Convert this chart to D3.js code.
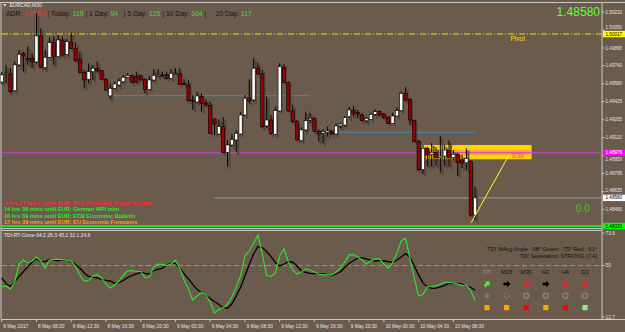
<!DOCTYPE html>
<html>
<head>
<meta charset="utf-8">
<script src="https://cdn.jsdelivr.net/npm/d3@7"></script>
<style>
  body { margin: 0; background: #6b5b4c; overflow: hidden; }
  svg { display: block; font-family: "Liberation Sans", Arial, sans-serif; }
</style>
</head>
<body>
<div id="graph-container"></div>
<script>

/////////////////////////////////////////////////////////////////////////////
                      ///////    Data    ///////
/////////////////////////////////////////////////////////////////////////////

var opens = [
  1.49596,1.49667,1.49667,1.49520,1.49746,1.49848,1.49804,1.49801,1.49772,1.50000,
  1.49722,1.49813,1.49945,1.49818,1.49965,1.49839,1.49945,1.49892,1.49798,1.49678,
  1.49620,1.49687,1.49717,1.49696,1.49620,1.49474,1.49541,1.49570,1.49599,1.49638,
  1.49655,1.49643,1.49655,1.49620,1.49532,1.49614,1.49649,1.49658,1.49658,1.49629,
  1.49667,1.49667,1.49582,1.49570,1.49436,1.49421,1.49468,1.49412,1.49392,1.49272,
  1.49140,1.49204,1.48980,1.49044,1.49088,1.49140,1.49307,1.49454,1.49439,1.49717,
  1.49667,1.49211,1.49263,1.49138,1.49342,1.49725,1.49594,1.49342,1.49248,1.49082,
  1.49176,1.49263,1.49278,1.49161,1.49147,1.49155,1.49161,1.49140,1.49211,1.49219,
  1.49292,1.49345,1.49327,1.49307,1.49257,1.49269,1.49313,1.49336,1.49316,1.49287,
  1.49234,1.49298,1.49345,1.49497,1.49445,1.49257,1.49073,1.48829,1.49015,1.48962,
  1.48976,1.48936,1.48947,1.48994,1.48936,1.48962,1.48912,1.48889,1.48898,1.48430
];
var highs = [
  1.49684,1.49746,1.49717,1.49774,1.49877,1.49862,1.49906,1.49848,1.50199,1.50067,
  1.49877,1.49988,1.49994,1.50009,1.49994,1.49971,1.50029,1.49941,1.49862,1.49702,
  1.49760,1.49746,1.49774,1.49702,1.49634,1.49585,1.49599,1.49629,1.49658,1.49673,
  1.49658,1.49687,1.49658,1.49629,1.49649,1.49709,1.49709,1.49687,1.49687,1.49709,
  1.49717,1.49717,1.49620,1.49614,1.49482,1.49511,1.49497,1.49445,1.49424,1.49278,
  1.49269,1.49287,1.49088,1.49140,1.49176,1.49336,1.49482,1.49620,1.49804,1.49766,
  1.49702,1.49468,1.49307,1.49380,1.49760,1.49754,1.49599,1.49395,1.49263,1.49199,
  1.49336,1.49327,1.49287,1.49182,1.49182,1.49204,1.49176,1.49234,1.49240,1.49298,
  1.49375,1.49386,1.49351,1.49322,1.49287,1.49327,1.49357,1.49345,1.49327,1.49298,
  1.49327,1.49375,1.49511,1.49550,1.49454,1.49269,1.49088,1.49044,1.49029,1.49059,
  1.49024,1.49123,1.49044,1.49082,1.49000,1.48976,1.48956,1.49015,1.48912,1.48678
];
var lows = [
  1.49579,1.49585,1.49497,1.49511,1.49731,1.49687,1.49746,1.49717,1.49760,1.49717,
  1.49702,1.49804,1.49746,1.49813,1.49818,1.49833,1.49883,1.49774,1.49673,1.49541,
  1.49585,1.49614,1.49678,1.49614,1.49520,1.49447,1.49532,1.49555,1.49585,1.49629,
  1.49585,1.49585,1.49599,1.49497,1.49526,1.49599,1.49638,1.49638,1.49620,1.49620,
  1.49664,1.49570,1.49568,1.49424,1.49351,1.49410,1.49336,1.49380,1.49140,1.49132,
  1.49132,1.48971,1.48854,1.49029,1.48985,1.49132,1.49298,1.49410,1.49424,1.49658,
  1.49190,1.49190,1.49132,1.49132,1.49336,1.49585,1.49336,1.49234,1.49082,1.49073,
  1.49161,1.49234,1.49152,1.49073,1.49059,1.49117,1.49132,1.49132,1.49190,1.49204,
  1.49278,1.49292,1.49278,1.49248,1.49240,1.49263,1.49298,1.49298,1.49269,1.49228,
  1.49228,1.49292,1.49336,1.49424,1.49219,1.49068,1.48819,1.48790,1.48854,1.48854,
  1.48860,1.48801,1.48860,1.48854,1.48912,1.48772,1.48842,1.48825,1.48415,1.48386
];
var closes = [
  1.49658,1.49675,1.49511,1.49746,1.49839,1.49824,1.49789,1.49772,1.50000,1.49722,
  1.49813,1.49941,1.49818,1.49965,1.49833,1.49950,1.49892,1.49783,1.49678,1.49614,
  1.49687,1.49717,1.49693,1.49620,1.49526,1.49541,1.49579,1.49605,1.49638,1.49655,
  1.49594,1.49594,1.49620,1.49532,1.49614,1.49655,1.49658,1.49649,1.49629,1.49673,
  1.49673,1.49576,1.49573,1.49432,1.49430,1.49474,1.49410,1.49395,1.49147,1.49228,
  1.49204,1.48976,1.49044,1.49092,1.49147,1.49307,1.49454,1.49430,1.49717,1.49667,
  1.49204,1.49263,1.49147,1.49345,1.49731,1.49590,1.49342,1.49248,1.49088,1.49176,
  1.49257,1.49278,1.49161,1.49140,1.49161,1.49167,1.49140,1.49211,1.49228,1.49283,
  1.49351,1.49322,1.49313,1.49257,1.49278,1.49313,1.49336,1.49307,1.49287,1.49234,
  1.49298,1.49345,1.49497,1.49439,1.49263,1.49073,1.48825,1.49015,1.48956,1.48980,
  1.48936,1.48947,1.49000,1.48936,1.48962,1.48889,1.48886,1.48927,1.48430,1.48580
];

var time_labels = ['8 May 2017', '8 May 08:30', '8 May 12:30', '8 May 16:30', '8 May 20:30',
                   '9 May 00:30', '9 May 04:30', '9 May 08:30', '9 May 12:30', '9 May 16:30',
                   '9 May 20:30', '10 May 00:30', '10 May 04:30', '10 May 08:30'];
var bars_per_label = 8;

var price_ticks = [1.50210, 1.50050, 1.49895, 1.49740, 1.49580, 1.49425, 1.49265,
                   1.49110, 1.48950, 1.48795, 1.48635, 1.48480];

var tdi_green = [
  34.5,35.2,33.0,38.1,51.1,54.0,51.9,53.3,56.2,53.3,
  48.2,54.0,54.5,54.5,54.4,54.0,53.3,49.0,43.2,38.8,
  39.2,42.4,43.5,41.0,36.6,33.7,35.9,38.8,42.8,46.1,
  46.4,45.7,45.7,41.2,41.7,49.0,51.1,50.8,50.0,51.1,
  53.7,48.2,39.5,33.0,25.0,27.9,30.5,28.7,23.6,15.6,
  18.1,19.4,22.1,27.2,34.5,42.4,56.9,60.9,66.0,72.2,
  58.4,42.8,42.1,44.2,56.9,62.0,52.6,46.8,43.9,45.3,
  47.5,46.8,45.3,43.9,43.2,43.2,43.2,45.3,48.2,52.6,
  57.7,58.0,56.2,54.0,51.1,53.3,54.8,54.8,51.1,48.0,
  51.9,59.1,67.8,69.8,55.3,41.0,27.9,29.0,34.5,34.8,
  35.2,36.6,37.9,37.9,37.4,36.6,35.5,35.9,31.6,24.6
];
var tdi_signal = [
  41.0,37.0,34.8,38.1,42.1,45.7,49.0,52.6,55.1,52.9,
  52.8,54.4,54.2,53.4,54.4,54.0,52.9,50.8,48.2,44.6,
  42.1,41.5,41.0,39.9,39.2,38.8,37.1,37.7,39.2,41.3,
  42.8,43.9,45.0,44.4,43.9,46.4,47.3,48.2,50.4,51.5,
  51.9,48.2,44.2,40.3,36.3,32.6,30.5,28.3,26.1,23.9,
  21.8,19.6,19.0,22.1,27.9,34.1,42.4,50.8,58.4,63.8,
  63.1,60.2,56.6,52.2,49.7,51.1,52.8,52.4,49.7,46.1,
  45.0,44.4,44.2,44.2,43.9,43.5,42.8,43.9,45.5,48.6,
  51.5,53.7,55.3,55.6,54.8,53.8,53.3,53.8,53.3,52.8,
  52.4,54.0,56.2,58.7,56.2,49.7,43.2,37.4,34.7,33.5,
  33.7,34.5,35.7,37.0,37.1,37.1,36.6,35.5,34.1,32.1
];
var tdi_ticks = [73.6, 50, 12.7];
var tdi_mid = 50;

var pivot_price = 1.50017;
var s38_price = 1.48976;
var bid_price = 1.48580;
var bid_from_bar = 49;
var low_price = 1.48333;
var blue_levels = [{from: 25, to: 71, price: 1.49476}, {from: 71, to: 109, price: 1.49155}];
var zone = {from: 96.5, to: 122, top: 1.49044, bottom: 1.48919, band_top: 1.49000, band_bottom: 1.48956};
var trend = [{bar: 108.1, price: 1.48363}, {bar: 116.9, price: 1.48962}];

var adr_parts = [
  {t: 'ADR: ', c: 'dark'}, {t: '107 5%', c: 'red'}, {t: '| Today: ', c: 'dark'}, {t: '119', c: 'green'},
  {t: ' | 1 Day: ', c: 'dark'}, {t: '94', c: 'green'}, {t: '   | 5 Day: ', c: 'dark'}, {t: '125', c: 'green'},
  {t: ' | 10 Day: ', c: 'dark'}, {t: '104', c: 'green'}, {t: ' |     20 Day: ', c: 'dark'}, {t: '117', c: 'green'}
];
var news = [
  {t: '4 hrs 21 mins since EUR: ECB President Draghi Speaks', c: 'red'},
  {t: '14 hrs 39 mins until EUR: German WPI m/m', c: 'green'},
  {t: '16 hrs 39 mins until EUR: ECB Economic Bulletin', c: 'green'},
  {t: '17 hrs 39 mins until EUR: EU Economic Forecasts', c: 'orange'}
];

var timeframes = ['M5', 'M15', 'M30', 'H1', 'H4', 'D1'];
var tf_angle = [-45, 0, 45, 0, 45, 90];
var tf_arrow_color = ['#33ff33', '#000', '#ff1a1a', '#000', '#ff1a1a', '#ff1a1a'];
var tf_square_color = ['#ffa500', '#ffa500', '#ff0000', '#ffa500', '#ff0000', '#90ee90'];
var tdi_info = ['TDI WAvg Angle: -58\u00b0  Green: -75\u00b0  Red: -51\u00b0', 'TDI Seperation: STRONG [7.4]'];

/////////////////////////////////////////////////////////////////////////////
                      ///////    Set Up Chart    ///////
/////////////////////////////////////////////////////////////////////////////

var w = 625, h = 332;
var bg = '#6b5b4c';
var frame = '#c9c9c9';
var axis_x = 602;
var main_top = 3, main_bottom = 228;
var sub_top = 230, sub_bottom = 319;
var text_col = {dark: '#141414', red: '#ff2a2a', green: '#2ee52e', orange: '#ff9f1a'};

var svg = d3.select('#graph-container').append('svg').attr('width', w).attr('height', h);
svg.append('rect').attr('width', w).attr('height', h).attr('fill', bg);

var n = closes.length;
var x = d3.scaleLinear().domain([0, n - 1]).range([1.7, 1.7 + 4.343 * (n - 1)]);
var y = d3.scaleLinear().domain([1.48316, 1.50280]).range([main_bottom, 4]);
var yt = d3.scaleLinear().domain([12.7, 73.6]).range([317, 233]);

var bars = d3.range(n).map(i => ({i: i, o: opens[i], h: highs[i], l: lows[i], c: closes[i]}));

// frame lines
svg.append('line').attr('x1', 0).attr('x2', w).attr('y1', 2.5).attr('y2', 2.5).attr('stroke', frame);
svg.append('line').attr('x1', 1).attr('x2', 1).attr('y1', 2.5).attr('y2', sub_bottom).attr('stroke', frame);
svg.append('line').attr('x1', axis_x).attr('x2', axis_x).attr('y1', 2.5).attr('y2', sub_bottom).attr('stroke', frame);
svg.append('line').attr('x1', 1).attr('x2', axis_x).attr('y1', main_bottom + 0.5).attr('y2', main_bottom + 0.5).attr('stroke', frame);
svg.append('line').attr('x1', 1).attr('x2', axis_x).attr('y1', sub_top + 0.5).attr('y2', sub_top + 0.5).attr('stroke', frame);
svg.append('line').attr('x1', 1).attr('x2', w).attr('y1', sub_bottom + 0.5).attr('y2', sub_bottom + 0.5).attr('stroke', frame);

var main = svg.append('g');

// zone rectangle (drawn behind the candles)
main.append('rect')
    .attr('x', x(zone.from)).attr('width', Math.min(x(zone.to), axis_x) - x(zone.from))
    .attr('y', y(zone.top)).attr('height', y(zone.bottom) - y(zone.top))
    .attr('fill', '#ffd400');
main.append('rect')
    .attr('x', x(zone.from)).attr('width', Math.min(x(zone.to), axis_x) - x(zone.from))
    .attr('y', y(zone.band_top)).attr('height', y(zone.band_bottom) - y(zone.band_top))
    .attr('fill', '#f7a23a');

// horizontal levels
main.append('line').attr('x1', 2).attr('x2', axis_x).attr('y1', y(pivot_price)).attr('y2', y(pivot_price))
    .attr('stroke', '#e6e600').attr('stroke-width', 1).attr('stroke-dasharray', '6,2,1,2');
main.append('line').attr('x1', 2).attr('x2', axis_x).attr('y1', y(s38_price)).attr('y2', y(s38_price))
    .attr('stroke', '#d23cd2').attr('stroke-width', 1.2);
main.append('line').attr('x1', x(bid_from_bar)).attr('x2', axis_x).attr('y1', y(bid_price)).attr('y2', y(bid_price))
    .attr('stroke', '#8f8f8f').attr('stroke-width', 1.2);
main.append('line').attr('x1', 2).attr('x2', axis_x).attr('y1', y(low_price)).attr('y2', y(low_price))
    .attr('stroke', '#1aff1a').attr('stroke-width', 1.5);
main.selectAll('.blue').data(blue_levels).join('line').attr('class', 'blue')
    .attr('x1', d => x(d.from)).attr('x2', d => x(d.to))
    .attr('y1', d => y(d.price)).attr('y2', d => y(d.price))
    .attr('stroke', '#4a86b8').attr('stroke-width', 1);

// candles
var candle = main.selectAll('.candle').data(bars).join('g').attr('class', 'candle');
candle.append('rect')
    .attr('x', d => x(d.i) + 1).attr('width', 2)
    .attr('y', d => y(d.h) + 2.5).attr('height', d => y(d.l) - y(d.h))
    .attr('fill', '#4d4238').attr('opacity', 0.85);
candle.append('line')
    .attr('x1', d => x(d.i)).attr('x2', d => x(d.i))
    .attr('y1', d => y(d.h)).attr('y2', d => y(d.l))
    .attr('stroke', '#000').attr('stroke-width', 1);
candle.append('rect')
    .attr('x', d => x(d.i) - 1.6).attr('width', 3.2)
    .attr('y', d => y(Math.max(d.o, d.c)))
    .attr('height', d => Math.max(0.8, Math.abs(y(d.o) - y(d.c))))
    .attr('fill', d => d.c >= d.o ? '#ffffff' : '#9a0000')
    .attr('stroke', '#000').attr('stroke-width', 0.6);

// trend line from the last low up to the S38 label
main.append('line')
    .attr('x1', x(trend[0].bar)).attr('y1', y(trend[0].price))
    .attr('x2', x(trend[1].bar)).attr('y2', y(trend[1].price))
    .attr('stroke', '#ffff33').attr('stroke-width', 1);

main.append('text').attr('x', 511.5).attr('y', y(s38_price) + 5.5)
    .attr('font-size', 7).attr('fill', '#ff3c9e').text('S38');
main.append('text').attr('x', 510.5).attr('y', y(pivot_price) + 7.5)
    .attr('font-size', 6.5).attr('fill', '#e6e600').text('Pivot');
main.append('text').attr('x', 576).attr('y', y(low_price) - 14)
    .attr('font-size', 10).attr('fill', '#33cc33').text('0.0');

// header texts
svg.append('path').attr('d', 'M3,4.3 L6.6,4.3 L4.8,6.6 Z').attr('fill', '#eee');
svg.append('text').attr('x', 9.5).attr('y', 7.4).attr('font-size', 5).attr('fill', '#e8e8e8').text('EURCAD,M30');

svg.append('text').attr('x', 6).attr('y', 16.3).attr('font-size', 6.8)
    .selectAll('tspan').data(adr_parts).join('tspan')
    .attr('fill', d => text_col[d.c]).style('white-space', 'pre').text(d => d.t);

svg.append('text').attr('x', 600).attr('y', 15.5).attr('font-size', 12).attr('text-anchor', 'end')
    .attr('fill', '#66ff33').text(d3.format('.5f')(closes[n - 1]));

svg.selectAll('.news').data(news).join('text').attr('class', 'news')
    .attr('x', 4).attr('y', (d, i) => 205.3 + i * 6.1)
    .attr('font-size', 5.6).attr('font-weight', 'bold')
    .attr('fill', d => text_col[d.c]).text(d => d.t);

// price axis
var fmt = d3.format('.5f');
var box_h = 6.4;
var boxes = [
  {p: pivot_price, fill: '#ffff00', text: '#000'},
  {p: s38_price, fill: '#ff00ff', text: '#fff'},
  {p: bid_price, fill: '#ffffff', text: '#000'},
  {p: low_price, fill: '#00ff00', text: '#000'}
];
// a tick label that would sit under a level box is pushed just below it
function label_y(p) {
  var ly = y(p);
  boxes.forEach(b => {
    var by = y(b.p);
    if (Math.abs(ly - by) < box_h) { ly = ly > by ? by + box_h + 0.6 : by - box_h - 0.6; }
  });
  return ly;
}
svg.selectAll('.ptick').data(price_ticks).join('line').attr('class', 'ptick')
    .attr('x1', axis_x).attr('x2', axis_x + 2.5).attr('y1', d => y(d)).attr('y2', d => y(d))
    .attr('stroke', frame);
svg.selectAll('.plabel').data(price_ticks).join('text').attr('class', 'plabel')
    .attr('x', axis_x + 3.5).attr('y', d => label_y(d) + 1.6)
    .attr('font-size', 4.6).attr('fill', '#e4e4e4').text(d => fmt(d));

svg.selectAll('.pbox').data(boxes).join('rect').attr('class', 'pbox')
    .attr('x', axis_x + 1).attr('width', 22).attr('y', d => y(d.p) - box_h / 2).attr('height', box_h)
    .attr('fill', d => d.fill);
svg.selectAll('.pboxt').data(boxes).join('text').attr('class', 'pboxt')
    .attr('x', axis_x + 3.5).attr('y', d => y(d.p) + 1.6)
    .attr('font-size', 4.6).attr('fill', d => d.text).text(d => fmt(d.p));

/////////////////////////////////////////////////////////////////////////////
                      ///////    TDI pane    ///////
/////////////////////////////////////////////////////////////////////////////

var sub = svg.append('g');

sub.append('line').attr('x1', 2).attr('x2', axis_x).attr('y1', yt(tdi_mid)).attr('y2', yt(tdi_mid))
    .attr('stroke', '#c8901e').attr('stroke-width', 1).attr('stroke-dasharray', '5,3');

var line = d3.line().x((d, i) => x(i)).y(d => yt(d)).curve(d3.curveLinear);
sub.append('path').datum(tdi_signal).attr('d', line).attr('fill', 'none')
    .attr('stroke', '#000').attr('stroke-width', 1.3);
sub.append('path').datum(tdi_green).attr('d', line).attr('fill', 'none')
    .attr('stroke', '#2ee02e').attr('stroke-width', 1.2);

sub.append('text').attr('x', 4).attr('y', 237).attr('font-size', 5).attr('fill', '#eaeaea')
    .text('TDI-RT-Clone 64.2 26.3 45.2 32.1 24.6');

sub.selectAll('.info').data(tdi_info).join('text').attr('class', 'info')
    .attr('x', 597).attr('y', (d, i) => 250.5 + i * 7.5).attr('text-anchor', 'end')
    .attr('font-size', 5.6).attr('fill', '#111').text(d => d);

var tf_x = d3.scalePoint().domain(timeframes).range([487, 585]);

sub.selectAll('.tfl').data(timeframes).join('text').attr('class', 'tfl')
    .attr('x', d => tf_x(d)).attr('y', 273.5).attr('text-anchor', 'middle')
    .attr('font-size', 5.8).attr('fill', (d, i) => i === 0 ? '#8a8a8a' : '#111').text(d => d);

sub.selectAll('.tfa').data(timeframes).join('path').attr('class', 'tfa')
    .attr('d', 'M-3.2,-1.3 L0.4,-1.3 L0.4,-3.3 L3.7,0 L0.4,3.3 L0.4,1.3 L-3.2,1.3 Z')
    .attr('transform', (d, i) => `translate(${tf_x(d)},284) rotate(${tf_angle[i]})`)
    .attr('fill', (d, i) => tf_arrow_color[i]);

sub.selectAll('.tfc').data(timeframes).join('circle').attr('class', 'tfc')
    .attr('cx', d => tf_x(d)).attr('cy', 295.7).attr('r', (d, i) => i === 0 ? 2.3 : 2.6)
    .attr('fill', (d, i) => i === 0 ? '#7a7a7a' : 'none')
    .attr('stroke', (d, i) => i === 0 ? 'none' : (i === 1 ? '#8a7c6c' : '#858585'))
    .attr('stroke-width', 1.3)
    .attr('stroke-dasharray', (d, i) => i === 1 ? '1.5,1.5' : null);

sub.selectAll('.tfs').data(timeframes).join('rect').attr('class', 'tfs')
    .attr('x', d => tf_x(d) - 2.6).attr('y', 305).attr('width', 5.2).attr('height', 5.2)
    .attr('fill', (d, i) => tf_square_color[i]);

sub.selectAll('.ttick').data(tdi_ticks).join('line').attr('class', 'ttick')
    .attr('x1', axis_x).attr('x2', axis_x + 2.5).attr('y1', d => yt(d)).attr('y2', d => yt(d))
    .attr('stroke', frame);
sub.selectAll('.tlabel').data(tdi_ticks).join('text').attr('class', 'tlabel')
    .attr('x', axis_x + 3.5).attr('y', d => yt(d) + 1.8)
    .attr('font-size', 4.8).attr('fill', '#e4e4e4').text(d => d);

/////////////////////////////////////////////////////////////////////////////
                      ///////    Time axis    ///////
/////////////////////////////////////////////////////////////////////////////

var time_g = svg.selectAll('.time').data(time_labels).join('g').attr('class', 'time')
    .attr('transform', (d, i) => `translate(${x(i * bars_per_label)},0)`);
time_g.append('line').attr('x1', 0).attr('x2', 0).attr('y1', sub_bottom).attr('y2', sub_bottom + 3)
    .attr('stroke', frame);
time_g.append('text').attr('x', 1.5).attr('y', 327.8).attr('font-size', 4.8).attr('fill', '#e4e4e4')
    .text(d => d);

</script>
</body>
</html>
